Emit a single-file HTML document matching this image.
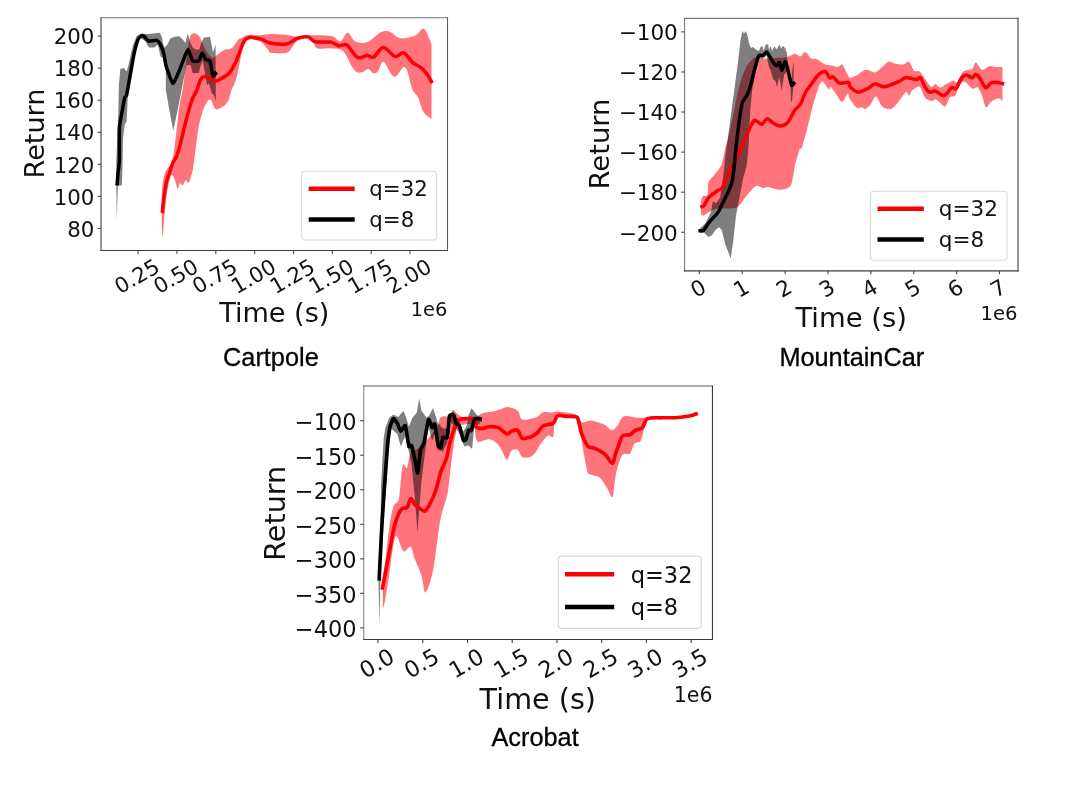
<!DOCTYPE html>
<html lang="en">
<head>
<meta charset="utf-8">
<title>Return vs Time: Cartpole, MountainCar, Acrobat</title>
<style>
html,body{margin:0;padding:0;background:#fff;}
body{width:1080px;height:785px;overflow:hidden;font-family:'Liberation Sans',sans-serif;}
svg{display:block;}
text{white-space:pre;}
</style>
</head>
<body>
<svg width="1080" height="785" viewBox="0 0 1080 785">
<rect width="1080" height="785" fill="#ffffff"/>
<clipPath id="c1"><rect x="101.0" y="17.75" width="346.5" height="232.75"/></clipPath>
<g clip-path="url(#c1)">
<path d="M162.4,235.9 C162.3,232.1 161.6,221.4 161.6,213 C161.6,204.6 161.7,192.5 162.4,185.5 C162.9,179.9 164.4,174.5 165.7,171.2 C166.7,168.7 168.7,167.9 169.9,165.4 C171.2,162.7 172.6,159.2 173.4,155.2 C174.5,149.4 175.5,139.1 176.5,130.8 C177.5,122.5 178.6,112.1 179.6,105.3 C180.5,99.4 181.8,94.9 182.6,90 C183.4,85.1 183.8,81.4 184.5,76.1 C185.3,69.5 186.5,57.4 187.5,50.6 C188.4,44.7 189.4,38.2 190.6,35.3 C191.3,33.7 193.2,33.0 194.7,33.3 C196.2,33.6 198.4,35.3 199.8,37.3 C201.3,39.5 202.3,43.6 203.8,46.5 C205.3,49.4 207.4,52.8 208.9,54.7 C210.1,56.2 211.6,57.7 213,57.7 C214.4,57.7 215.5,55.8 217.1,54.7 C219.1,53.4 222.8,50.6 225.2,49.6 C227.4,48.6 229.5,50.0 231.4,48.5 C233.6,46.8 236.8,41.1 238.5,39.4 C239.4,38.5 240.4,38.8 241.5,38.3 C242.8,37.6 244.4,35.7 246.6,35.3 C249.7,34.8 256.1,35.5 260,35.3 C263.8,35.1 266.2,34.1 270,34.1 C274.6,34.1 283.3,34.5 287.8,35 C291.3,35.3 293.5,36.8 296.8,36.8 C300.1,36.8 303.4,35.4 307.5,35.3 C313.3,35.1 326.0,34.9 331.5,35.9 C335.4,36.6 337.8,41.7 340.5,41.2 C343.2,40.7 345.1,32.7 347.6,32.8 C350.1,32.9 352.2,40.3 355.6,41.8 C359.0,43.3 363.9,43.4 368.1,41.8 C372.3,40.2 377.0,34.0 380.6,32.3 C383.7,30.8 386.5,30.5 389.5,31.4 C392.5,32.3 395.5,36.7 398.5,37.7 C401.5,38.8 404.4,38.2 407.4,37.7 C410.4,37.2 413.8,36.5 416.3,35 C418.8,33.5 420.9,29.3 422.5,28.7 C424.1,28.1 425.2,29.9 426.1,31.4 C427.6,33.9 430.6,41.8 431.5,43.9 L431.5,118.8 C430.1,117.6 425.6,115.2 423.4,111.7 C421.2,108.1 419.9,101.0 418.1,97.4 C416.6,94.4 414.0,93.4 412.7,90.3 C410.9,86.0 408.9,75.4 407.4,71.5 C406.6,69.5 405.7,66.3 403.8,67.1 C401.9,67.9 397.9,75.2 395.8,76.4 C394.1,77.3 392.5,75.7 391.3,74.2 C389.2,71.8 385.5,62.2 383.3,61.7 C381.1,61.2 379.5,69.6 377.9,71.5 C376.7,72.9 375.1,73.7 373.5,73.3 C371.9,72.9 369.9,69.1 368.1,68.9 C366.3,68.7 364.6,71.5 362.8,72.1 C361.0,72.7 359.2,73.2 357.4,72.4 C355.6,71.6 353.7,69.5 352.1,67.1 C349.7,63.5 346.5,54.1 343.1,51 C339.8,48.0 335.8,48.8 331.5,48.4 C327.2,48.0 320.4,49.5 317.3,48.4 C314.4,47.4 314.4,43.6 312.8,41.8 C311.2,40.0 309.7,38.2 307.5,37.7 C305.3,37.2 301.8,37.2 299.4,38.5 C297.0,39.8 295.3,43.3 293.2,45.7 C291.1,48.1 290.3,51.7 286.9,52.8 C283.0,54.0 273.1,53.2 270,52.8 C268.8,52.6 269.2,51.0 268.4,50.1 C266.9,48.3 263.7,43.9 261.3,42.1 C259.0,40.3 256.5,39.7 254.1,39.4 C251.7,39.1 248.8,39.2 247,40.3 C245.2,41.3 244.3,43.5 243.4,45.7 C242.5,47.9 242.1,50.6 241.5,53.6 C240.7,57.5 239.5,64.3 238.5,68.9 C237.5,73.5 236.6,77.7 235.4,81.2 C234.2,84.7 232.7,86.8 231.5,90 C230.3,93.2 229.8,97.5 228.5,100.2 C227.2,102.9 225.4,104.8 223.4,106.3 C221.4,107.8 218.0,109.6 216.3,109.4 C214.6,109.2 214.0,106.8 213.2,105.3 C212.3,103.8 212.0,101.0 211.2,100.2 C210.4,99.4 208.8,99.3 208.1,100.2 C206.7,101.9 204.5,106.3 203,110.4 C201.5,114.7 200.0,119.8 198.9,125.7 C197.7,131.8 196.9,139.7 195.9,147.1 C194.9,154.5 193.6,165.3 192.8,170 C192.5,172.1 191.8,173.3 191.2,175.3 C190.5,177.5 189.6,182.1 188.7,182.9 C187.8,183.8 186.6,180.0 185.6,180.4 C184.6,180.8 183.5,185.0 182.6,185.5 C181.7,186.0 180.8,182.9 180,183.4 C179.2,183.9 178.3,188.8 177.5,188.5 C176.7,188.2 176.4,183.6 175.4,181.4 C174.4,179.2 172.8,173.8 171.4,175.3 C170.1,176.8 168.4,184.7 167.3,190.6 C166.2,196.9 165.4,205.4 164.7,213 C164.0,220.6 163.3,232.1 163,235.9Z" fill="#ff020d" fill-opacity="0.55"/>
<path d="M116.3,185.5 L116.3,160 L118.2,117 L118.9,84.9 L120.3,68.9 L123.9,68 L126.6,71.5 L128.4,65.3 L132.8,45.7 L136.7,35.9 L140.8,33.7 L148.9,34.1 L159.6,32.8 L161.9,36.8 L163.5,45.7 L164.9,47.5 L167.6,43.9 L170.3,38.5 L174.7,36.8 L179.2,36.2 L182.8,39.4 L185.4,43 L187.8,33.2 L189.6,40.4 L192.6,47.5 L195.7,49.6 L199.2,49.6 L201.8,41.4 L203.8,37.8 L209.9,36.8 L211.5,44.5 L213,52.6 L215.6,44.5 L215.8,100.9 L214,95.4 L212,93.4 L208.9,83.2 L206.9,85.2 L204.9,73 L202.8,60.8 L200.8,64.9 L198.7,73 L192.6,73 L190.6,64.9 L186.5,64.9 L184.5,75 L181.6,90 L179.6,100.2 L176.5,115.5 L173.2,130.8 L170.4,115.5 L165.8,90 L165.8,70.7 L163.1,58.2 L160.5,56.4 L157.8,44.8 L154.2,47.5 L148.9,47.5 L145.3,41.2 L140.8,38.2 L136.7,42.1 L131.4,63.5 L127.8,95.6 L126.6,121.5 L124.8,124.2 L123,137.9 L122.6,160 L121.9,185.5 L117.8,185.5 L116.8,221.2Z" fill="#000000" fill-opacity="0.5"/>
<path d="M162.2,213 C162.5,210.1 163.4,201.1 164.2,195.7 C165.0,190.3 165.8,184.7 166.8,180.4 C167.8,176.4 169.3,173.1 170.3,170.2 C171.3,167.4 171.9,165.2 172.9,162.9 C173.9,160.6 175.5,159.0 176.5,156.3 C177.8,153.0 179.2,148.1 180.6,143 C182.0,137.9 183.3,131.1 184.7,125.7 C186.0,120.3 187.3,115.0 188.7,110.4 C190.0,105.8 191.4,101.6 192.8,98.2 C194.1,95.0 195.6,93.2 196.9,90 C198.2,86.8 199.5,81.3 200.8,79.1 C201.7,77.5 203.4,76.8 204.9,76.6 C206.4,76.4 208.2,77.3 209.9,78.1 C211.6,78.9 213.1,81.1 215,81.2 C216.9,81.3 219.0,79.9 221.2,78.6 C223.6,77.2 226.9,75.6 229.3,73 C231.7,70.4 233.5,66.7 235.4,62.8 C237.3,58.9 239.0,53.3 240.5,49.6 C242.0,46.1 243.1,42.5 244.6,40.4 C246.0,38.6 248.1,37.8 249.7,37.3 C251.3,36.8 252.4,37.4 254.1,37.7 C256.2,38.1 259.5,38.5 262.2,39.4 C264.9,40.3 266.9,42.4 270.2,43 C274.3,43.8 282.5,44.6 286.9,43.9 C291.1,43.2 293.4,39.7 296.8,38.5 C300.2,37.3 304.4,36.2 307.5,36.8 C310.6,37.3 312.0,41.0 315.5,41.8 C319.4,42.7 326.8,41.5 330.7,42.1 C334.0,42.7 336.0,45.2 338.7,45.7 C341.4,46.2 344.1,43.2 346.7,44.8 C349.8,46.7 354.0,55.5 357.4,57.3 C360.8,59.1 364.5,55.5 367.2,55.5 C369.7,55.5 371.3,58.4 373.5,57.3 C376.2,56.0 379.7,47.6 383.3,47.5 C386.9,47.4 391.5,55.5 394.9,56.4 C398.3,57.3 400.8,51.8 403.8,52.8 C406.8,53.8 409.7,60.1 412.7,62.6 C415.7,65.1 419.2,66.1 421.6,68 C424.0,69.9 425.2,71.7 427,74.2 C428.8,76.7 431.4,81.6 432.3,83.1" fill="none" stroke="#f80006" stroke-width="3.5" stroke-linejoin="round" stroke-linecap="butt"/>
<path d="M117,185.5 C117.1,184.4 117.9,174.3 118.1,172.2 C118.3,170.1 119.3,163.7 119.4,160 C119.5,156.3 119.2,131.7 119.4,127.7 C119.6,123.7 121.6,114.2 122.1,111.7 C122.5,109.2 124.4,98.8 124.8,97.4 C125.1,96.4 126.4,96.3 126.6,95.3 C127.3,92.0 132.3,62.8 133.2,58.2 C134.1,53.6 137.1,41.9 137.8,40 C138.5,38.1 141.3,35.8 141.9,35.5 C142.5,35.2 144.0,36.3 144.6,36.8 C145.2,37.3 147.9,40.9 148.9,41.2 C149.9,41.5 155.9,39.8 156.9,40.3 C157.9,40.8 160.8,45.4 161.4,46.6 C162.0,47.8 163.6,53.0 164,54.6 C164.4,56.2 165.4,63.5 166.1,65.9 C166.8,68.3 171.7,82.6 172.7,83.2 C173.7,83.8 177.4,75.0 178.3,73 C179.2,71.0 182.6,61.8 183.4,59.8 C184.2,57.8 187.2,49.5 188,49.6 C188.8,49.7 191.7,59.9 192.6,60.8 C193.5,61.7 197.9,61.4 198.7,60.8 C199.5,60.2 201.7,53.2 202.3,53.1 C202.9,53.0 205.3,59.2 205.9,59.8 C206.5,60.4 209.3,59.4 209.9,60.8 C210.5,62.2 212.4,75.2 213,76.1 C213.6,77.0 216.3,72.3 216.6,72" fill="none" stroke="#000" stroke-width="3.5" stroke-linejoin="round" stroke-linecap="butt"/>
</g>
<rect x="301.7" y="171.3" width="135" height="68.7" rx="3.2" fill="#fff" fill-opacity="0.8" stroke="#d4d4d4" stroke-opacity="0.9" stroke-width="1.1"/>
<line x1="308.7" y1="188.7" x2="354.7" y2="188.7" stroke="#f80006" stroke-width="4.4"/>
<text x="369.3" y="195.94" font-family="'DejaVu Sans','Liberation Sans',sans-serif" font-size="21.30" fill="#111">q=32</text>
<line x1="308.7" y1="219.5" x2="354.7" y2="219.5" stroke="#000" stroke-width="4.4"/>
<text x="369.3" y="226.74" font-family="'DejaVu Sans','Liberation Sans',sans-serif" font-size="21.30" fill="#111">q=8</text>
<line x1="101.0" y1="17.21" x2="101.0" y2="251.04" stroke="#3c3c3c" stroke-width="1.08"/>
<line x1="100.46" y1="17.75" x2="448.04" y2="17.75" stroke="#707070" stroke-width="1.08"/>
<line x1="447.5" y1="17.21" x2="447.5" y2="251.04" stroke="#5c5c5c" stroke-width="1.08"/>
<line x1="100.46" y1="250.5" x2="448.04" y2="250.5" stroke="#3c3c3c" stroke-width="1.08"/>
<line x1="97.6" y1="36.1" x2="101.0" y2="36.1" stroke="#4a4a4a" stroke-width="1.1"/>
<text x="94.30" y="44.30" text-anchor="end" font-family="'DejaVu Sans','Liberation Sans',sans-serif" font-size="21.30" fill="#111">200</text>
<line x1="97.6" y1="68.15" x2="101.0" y2="68.15" stroke="#4a4a4a" stroke-width="1.1"/>
<text x="94.30" y="76.35" text-anchor="end" font-family="'DejaVu Sans','Liberation Sans',sans-serif" font-size="21.30" fill="#111">180</text>
<line x1="97.6" y1="100.19999999999999" x2="101.0" y2="100.19999999999999" stroke="#4a4a4a" stroke-width="1.1"/>
<text x="94.30" y="108.40" text-anchor="end" font-family="'DejaVu Sans','Liberation Sans',sans-serif" font-size="21.30" fill="#111">160</text>
<line x1="97.6" y1="132.25" x2="101.0" y2="132.25" stroke="#4a4a4a" stroke-width="1.1"/>
<text x="94.30" y="140.45" text-anchor="end" font-family="'DejaVu Sans','Liberation Sans',sans-serif" font-size="21.30" fill="#111">140</text>
<line x1="97.6" y1="164.29999999999998" x2="101.0" y2="164.29999999999998" stroke="#4a4a4a" stroke-width="1.1"/>
<text x="94.30" y="172.50" text-anchor="end" font-family="'DejaVu Sans','Liberation Sans',sans-serif" font-size="21.30" fill="#111">120</text>
<line x1="97.6" y1="196.35" x2="101.0" y2="196.35" stroke="#4a4a4a" stroke-width="1.1"/>
<text x="94.30" y="204.55" text-anchor="end" font-family="'DejaVu Sans','Liberation Sans',sans-serif" font-size="21.30" fill="#111">100</text>
<line x1="97.6" y1="228.39999999999998" x2="101.0" y2="228.39999999999998" stroke="#4a4a4a" stroke-width="1.1"/>
<text x="94.30" y="236.60" text-anchor="end" font-family="'DejaVu Sans','Liberation Sans',sans-serif" font-size="21.30" fill="#111">80</text>
<line x1="138.1" y1="250.5" x2="138.1" y2="253.9" stroke="#4a4a4a" stroke-width="1.1"/>
<text transform="translate(137.00,276.49) rotate(-30)" x="0" y="7.24" text-anchor="middle" font-family="'DejaVu Sans','Liberation Sans',sans-serif" font-size="21.30" fill="#111">0.25</text>
<line x1="176.95" y1="250.5" x2="176.95" y2="253.9" stroke="#4a4a4a" stroke-width="1.1"/>
<text transform="translate(175.85,276.49) rotate(-30)" x="0" y="7.24" text-anchor="middle" font-family="'DejaVu Sans','Liberation Sans',sans-serif" font-size="21.30" fill="#111">0.50</text>
<line x1="215.8" y1="250.5" x2="215.8" y2="253.9" stroke="#4a4a4a" stroke-width="1.1"/>
<text transform="translate(214.70,276.49) rotate(-30)" x="0" y="7.24" text-anchor="middle" font-family="'DejaVu Sans','Liberation Sans',sans-serif" font-size="21.30" fill="#111">0.75</text>
<line x1="254.65" y1="250.5" x2="254.65" y2="253.9" stroke="#4a4a4a" stroke-width="1.1"/>
<text transform="translate(253.55,276.49) rotate(-30)" x="0" y="7.24" text-anchor="middle" font-family="'DejaVu Sans','Liberation Sans',sans-serif" font-size="21.30" fill="#111">1.00</text>
<line x1="293.5" y1="250.5" x2="293.5" y2="253.9" stroke="#4a4a4a" stroke-width="1.1"/>
<text transform="translate(292.40,276.49) rotate(-30)" x="0" y="7.24" text-anchor="middle" font-family="'DejaVu Sans','Liberation Sans',sans-serif" font-size="21.30" fill="#111">1.25</text>
<line x1="332.35" y1="250.5" x2="332.35" y2="253.9" stroke="#4a4a4a" stroke-width="1.1"/>
<text transform="translate(331.25,276.49) rotate(-30)" x="0" y="7.24" text-anchor="middle" font-family="'DejaVu Sans','Liberation Sans',sans-serif" font-size="21.30" fill="#111">1.50</text>
<line x1="371.20000000000005" y1="250.5" x2="371.20000000000005" y2="253.9" stroke="#4a4a4a" stroke-width="1.1"/>
<text transform="translate(370.10,276.49) rotate(-30)" x="0" y="7.24" text-anchor="middle" font-family="'DejaVu Sans','Liberation Sans',sans-serif" font-size="21.30" fill="#111">1.75</text>
<line x1="410.04999999999995" y1="250.5" x2="410.04999999999995" y2="253.9" stroke="#4a4a4a" stroke-width="1.1"/>
<text transform="translate(408.95,276.49) rotate(-30)" x="0" y="7.24" text-anchor="middle" font-family="'DejaVu Sans','Liberation Sans',sans-serif" font-size="21.30" fill="#111">2.00</text>
<text x="274.3" y="322.3" text-anchor="middle" font-family="'DejaVu Sans','Liberation Sans',sans-serif" font-size="27.10" fill="#111">Time (s)</text>
<text transform="translate(44.2,133.5) rotate(-90)" text-anchor="middle" font-family="'DejaVu Sans','Liberation Sans',sans-serif" font-size="27.10" fill="#111">Return</text>
<text x="447.3" y="316.0" text-anchor="end" font-family="'DejaVu Sans','Liberation Sans',sans-serif" font-size="19.40" fill="#111">1e6</text>
<text x="270.9" y="365.5" text-anchor="middle" font-family="'Liberation Sans',sans-serif" font-size="25.30" fill="#000" stroke="#000" stroke-width="0.3">Cartpole</text>
<clipPath id="c2"><rect x="684.6" y="18.4" width="333.4" height="252.45000000000002"/></clipPath>
<g clip-path="url(#c2)">
<path d="M700.7,206.7 C700.9,205.1 701.0,198.8 702.1,196.9 C703.2,195.0 706.6,197.1 707.5,195.1 C708.5,192.7 707.2,186.0 708.4,182.6 C709.6,179.2 712.4,177.7 714.6,174.6 C716.8,171.5 719.9,168.4 721.7,163.9 C723.5,159.4 724.1,152.6 725.3,147.8 C726.5,143.0 727.7,139.9 728.9,134.9 C730.4,128.6 732.4,118.4 734.2,109.9 C736.0,101.4 737.8,91.3 739.9,84 C742.0,76.9 744.4,70.2 746.9,65.8 C749.1,62.0 752.5,58.6 754.9,57.5 C757.1,56.5 758.6,59.0 761,59.1 C763.5,59.2 766.5,58.4 769.9,58.2 C774.1,57.9 781.8,58.0 786,57.3 C789.6,56.7 792.5,53.9 794.9,53.7 C797.2,53.6 798.5,56.7 800.2,56.4 C801.9,56.1 803.4,51.6 805.2,51.9 C807.0,52.2 809.0,57.0 810.9,58.2 C812.6,59.3 814.4,58.3 816.3,59.1 C818.7,60.1 822.8,63.4 825.2,64.4 C827.1,65.2 828.6,64.9 830.6,65.3 C832.7,65.8 835.8,67.2 837.7,67.1 C839.6,66.9 840.9,63.8 842.2,64.4 C843.5,65.0 844.4,68.5 845.7,70.7 C847.0,72.9 848.1,77.1 850,77.8 C851.9,78.5 854.5,76.4 857.1,75.1 C859.8,73.8 863.1,70.2 866.1,69.8 C869.1,69.3 872.3,72.9 875,72.4 C877.7,72.0 879.9,68.9 882.1,67.1 C884.3,65.3 886.3,62.3 888.4,61.7 C890.5,61.1 892.2,63.1 894.6,63.5 C897.1,64.0 901.1,64.7 903.5,64.4 C905.8,64.1 907.1,60.7 908.9,61.7 C910.7,62.8 912.4,69.1 914.2,70.7 C915.7,72.1 917.9,70.3 919.6,71.5 C921.4,72.8 923.0,76.2 924.9,78.7 C926.8,81.2 929.4,85.8 931.2,86.7 C933.0,87.6 934.1,83.8 935.6,84 C937.1,84.2 938.3,87.6 940.1,87.6 C941.9,87.6 944.1,85.2 946.3,84 C948.5,82.8 951.7,80.8 953.5,80.5 C955.0,80.3 955.9,83.3 957,82.3 C958.6,80.8 960.8,73.7 963.3,71.5 C965.8,69.3 970.1,70.4 972.2,68.9 C974.3,67.4 974.2,62.5 975.8,62.6 C977.4,62.8 979.8,69.2 982,69.8 C984.2,70.4 986.8,66.7 989.2,66.2 C991.6,65.8 994.1,66.9 996.3,67.1 C998.5,67.2 1001.5,67.1 1002.5,67.1 L1002.5,101 C1001.8,100.5 1000.0,98.1 998.1,98.3 C996.2,98.5 992.9,100.4 990.9,101.9 C988.9,103.4 987.4,108.2 985.9,107.2 C984.4,106.2 983.4,98.9 982,95.6 C980.6,92.4 979.2,88.8 977.6,87.6 C976.0,86.4 974.1,89.4 972.2,88.5 C970.0,87.5 966.4,81.7 964.2,81.4 C962.0,81.1 960.3,84.3 958.8,86.7 C957.3,89.1 956.8,93.8 955.3,95.6 C953.9,97.3 951.4,95.8 949.9,97.4 C948.2,99.2 946.9,105.2 945.4,106.3 C943.9,107.3 942.6,104.8 941,103.7 C939.4,102.5 937.1,99.7 935.6,99.2 C934.2,98.8 933.6,101.2 932.1,101 C930.3,100.7 926.9,99.7 924.9,97.4 C922.8,95.0 921.7,87.9 919.6,86.7 C917.5,85.5 914.2,88.8 912.4,90.3 C910.6,91.8 909.9,95.3 908.9,95.6 C907.9,95.9 907.7,91.3 906.2,92.1 C904.6,93.0 901.3,98.3 899.1,101 C896.9,103.7 894.6,106.8 892.8,108.1 C891.4,109.1 890.1,109.3 888.4,109 C886.6,108.7 883.9,108.1 882.1,106.3 C880.0,104.2 877.8,96.8 875.9,96.5 C874.0,96.2 872.3,102.5 870.5,104.6 C868.8,106.6 866.7,108.6 865.2,109 C863.7,109.4 863.0,107.4 861.6,107.2 C860.2,107.0 858.5,109.1 857.1,108.1 C855.2,106.8 851.6,101.6 850,99.2 C848.7,97.3 848.8,93.3 847.5,93.8 C846.2,94.2 844.1,101.9 842.2,101.9 C840.3,101.9 837.8,96.3 835.9,93.8 C834.0,91.3 831.8,87.4 830.6,86.7 C829.6,86.1 829.8,90.1 828.8,89.4 C827.4,88.5 824.3,81.6 822.5,81.4 C820.7,81.2 819.3,85.5 818.1,88.5 C816.5,92.7 814.5,99.8 812.7,106.3 C810.9,112.8 809.3,120.4 807.4,127.7 C805.5,135.0 802.3,146.7 801.1,150 C800.8,150.9 800.5,147.0 800.2,147.8 C799.2,150.4 796.1,160.9 794.9,165.7 C793.9,169.7 794.0,172.8 793.1,176.4 C792.2,180.0 791.9,184.9 789.5,187.1 C787.1,189.3 782.4,189.8 778.8,189.8 C775.2,189.8 770.8,187.4 768.1,187.1 C766.1,186.9 764.8,188.1 762.8,188 C760.7,187.8 758.1,184.8 755.6,186.2 C752.6,187.8 747.9,194.4 744.9,197.8 C742.1,201.1 740.8,204.9 737.8,206.7 C734.8,208.5 730.7,208.2 727.1,208.5 C723.5,208.8 719.4,207.9 716.4,208.5 C713.4,209.1 711.6,210.9 709.2,212.1 C706.8,213.3 703.5,216.4 702.1,215.6 C700.7,214.8 700.9,208.8 700.7,207.4Z" fill="#ff020d" fill-opacity="0.55"/>
<path d="M698.5,229.9 L705.7,222.8 L711,212.1 L712.8,201.4 L716.4,203.1 L720,197.8 L723.5,174.6 L725.3,156.8 L730.7,117 L737.8,63.5 L740.5,40.3 L742.3,30.9 L744,33.7 L745.7,30.9 L747.4,34.9 L749.2,44.1 L750.9,48.1 L752.6,46.9 L754.9,48.6 L757.2,50.4 L758.9,50.9 L760.6,46.9 L762.3,45.8 L763.5,50.4 L765.8,44.6 L768.1,44.6 L769.2,49.8 L770.7,45.8 L772.1,50.9 L774.4,46.4 L776.7,49.2 L779.5,44.6 L781.2,48.6 L783,45.8 L785.3,48.6 L787,53.2 L787.4,58.4 L788.6,67 L790.4,79.6 L791.6,77.3 L792.9,65.8 L793.8,61.2 L793.6,84.2 L792.1,100.2 L791,102.5 L790.4,84.7 L788.8,74.4 L787.4,71 L785.8,72.7 L784.1,75 L783,81.9 L781.5,91 L780.7,84.2 L779,77.3 L777.2,87.6 L775.5,80.7 L773.2,79.6 L770.9,71.6 L768.6,65.8 L766.6,55.5 L762.9,59 L758.9,59 L755.6,72.4 L752.1,90.3 L750.3,109.9 L748.5,147.8 L746.7,165.7 L743.1,178.2 L738.7,201.4 L736,215.6 L733.3,240.6 L730.7,258.5 L725.3,244.2 L721.7,229.9 L719.1,227.2 L715.5,229.9 L711.9,235.3 L708.4,237 L703.9,232.6 L698.5,231.7Z" fill="#000000" fill-opacity="0.5"/>
<path d="M700.3,207.1 C700.9,206.9 702.9,206.9 703.9,205.8 C705.2,204.2 706.3,200.2 708.4,197.8 C710.5,195.4 714.0,193.3 716.4,191.5 C718.7,189.8 721.0,189.5 722.6,187.1 C724.5,184.3 726.4,178.2 728,174.6 C729.6,171.2 730.9,168.7 732.4,165.7 C733.9,162.7 735.2,160.2 736.9,156.8 C738.7,153.2 741.5,148.0 743.1,144.3 C744.7,140.8 745.1,138.4 746.7,134.9 C748.5,130.9 752.0,122.8 753.8,120.6 C754.7,119.5 756.1,120.9 757.4,121.5 C758.8,122.1 760.3,124.7 761.9,124.2 C763.5,123.8 765.3,119.0 767.2,118.8 C769.1,118.6 771.3,122.1 773.5,123.3 C775.7,124.5 778.2,126.2 780.6,126 C783.0,125.8 785.7,124.7 787.7,122.4 C790.1,119.7 792.8,112.9 794.9,109.9 C796.5,107.6 798.7,107.0 800.2,104.6 C802.0,101.6 803.8,95.4 805.6,92.1 C807.2,89.1 808.9,87.6 810.9,84.9 C813.0,82.1 815.7,77.3 818.1,75.1 C820.3,73.0 823.3,71.0 825.2,71.5 C827.1,72.0 828.4,76.9 829.7,77.8 C830.8,78.6 832.0,76.2 833.2,76.9 C834.8,77.8 837.0,82.2 839.5,83.1 C842.0,84.0 846.6,81.7 848.4,82.3 C850.1,82.9 848.8,85.4 850,86.7 C851.6,88.3 855.0,91.8 858,92.1 C861.0,92.4 865.0,89.8 867.8,88.5 C870.6,87.2 872.3,84.3 875,84 C877.7,83.7 880.9,86.7 883.9,86.7 C886.9,86.7 890.3,84.9 892.8,84 C895.2,83.1 897.0,82.4 899.1,81.4 C901.2,80.4 903.1,78.2 905.3,77.8 C907.5,77.3 910.5,78.4 912.4,78.7 C914.1,79.0 915.5,79.8 916.9,79.6 C918.2,79.4 919.4,76.8 920.5,77.8 C921.8,79.0 923.4,84.3 924.9,86.7 C926.3,89.0 927.6,91.3 929.4,92.1 C931.2,92.8 933.4,90.6 935.6,91.2 C937.8,91.8 940.9,95.3 942.8,95.6 C944.7,95.9 945.8,94.3 947.2,93 C948.7,91.7 950.2,88.3 951.7,87.6 C953.2,86.8 954.9,89.7 956.2,88.5 C957.7,87.2 959.0,81.8 960.6,79.6 C962.2,77.4 964.1,75.4 966,75.1 C967.9,74.8 970.6,77.9 972.2,77.8 C973.8,77.7 974.5,74.0 975.8,74.2 C977.1,74.4 978.8,76.8 980.2,78.7 C981.8,80.9 983.8,86.9 985.6,87.6 C987.4,88.3 989.1,84.0 990.9,83.1 C992.7,82.2 994.2,82.2 996.3,82.3 C998.5,82.5 1003.0,83.7 1004.3,84" fill="none" stroke="#f80006" stroke-width="3.5" stroke-linejoin="round" stroke-linecap="butt"/>
<path d="M698.5,230.8 C698.9,230.8 702.2,231.3 703,230.8 C703.8,230.3 706.8,225.6 707.5,224.6 C708.2,223.6 711.0,220.2 711.9,219.2 C712.8,218.2 717.2,213.6 718.2,212.1 C719.2,210.6 722.6,203.2 723.5,201.4 C724.4,199.6 728.2,192.5 728.9,190.7 C729.6,188.9 732.0,182.1 732.4,180 C732.8,177.9 733.9,168.4 734.2,165.7 C734.5,163.0 735.6,151.3 736,147.8 C736.4,144.3 738.2,128.0 738.7,124.2 C739.2,120.5 741.6,105.2 742.3,102.8 C743.0,100.4 746.2,96.4 746.7,95.6 C747.2,94.8 747.7,94.2 748,93.3 C748.4,92.2 750.9,84.0 751.5,81.9 C752.1,79.8 754.3,70.3 754.9,68.1 C755.5,65.9 758.2,56.5 758.9,55.5 C759.6,54.5 762.3,55.8 762.9,55.5 C763.5,55.2 766.0,52.0 766.6,52.1 C767.2,52.2 769.2,55.8 769.8,56.7 C770.3,57.6 772.6,61.6 773.2,62.4 C773.8,63.2 776.2,65.8 776.7,65.8 C777.2,65.8 779.1,62.0 779.5,62.4 C779.9,62.8 781.3,70.5 781.8,70.4 C782.3,70.3 784.8,61.2 785.3,61.2 C785.8,61.2 787.6,68.4 788.1,70.4 C788.6,72.4 791.0,84.3 791.6,85.3 C792.2,86.3 794.7,82.2 795,81.9" fill="none" stroke="#000" stroke-width="3.5" stroke-linejoin="round" stroke-linecap="butt"/>
</g>
<rect x="870.5" y="191.3" width="136.5" height="69" rx="3.2384" fill="#fff" fill-opacity="0.8" stroke="#d4d4d4" stroke-opacity="0.9" stroke-width="1.1132"/>
<line x1="877.5" y1="208.7" x2="923.8" y2="208.7" stroke="#f80006" stroke-width="4.41584"/>
<text x="938.8" y="216.03" font-family="'DejaVu Sans','Liberation Sans',sans-serif" font-size="21.56" fill="#111">q=32</text>
<line x1="877.5" y1="239.5" x2="923.8" y2="239.5" stroke="#000" stroke-width="4.41584"/>
<text x="938.8" y="246.83" font-family="'DejaVu Sans','Liberation Sans',sans-serif" font-size="21.56" fill="#111">q=8</text>
<line x1="684.6" y1="17.86" x2="684.6" y2="271.39" stroke="#757575" stroke-width="1.08"/>
<line x1="684.06" y1="18.4" x2="1018.54" y2="18.4" stroke="#757575" stroke-width="1.08"/>
<line x1="1018.0" y1="17.86" x2="1018.0" y2="271.39" stroke="#3c3c3c" stroke-width="1.08"/>
<line x1="684.06" y1="270.85" x2="1018.54" y2="270.85" stroke="#3c3c3c" stroke-width="1.08"/>
<line x1="681.159" y1="31.9" x2="684.6" y2="31.9" stroke="#4a4a4a" stroke-width="1.1132"/>
<text x="677.82" y="40.20" text-anchor="end" font-family="'DejaVu Sans','Liberation Sans',sans-serif" font-size="21.56" fill="#111">−100</text>
<line x1="681.159" y1="71.97" x2="684.6" y2="71.97" stroke="#4a4a4a" stroke-width="1.1132"/>
<text x="677.82" y="80.27" text-anchor="end" font-family="'DejaVu Sans','Liberation Sans',sans-serif" font-size="21.56" fill="#111">−120</text>
<line x1="681.159" y1="112.03999999999999" x2="684.6" y2="112.03999999999999" stroke="#4a4a4a" stroke-width="1.1132"/>
<text x="677.82" y="120.34" text-anchor="end" font-family="'DejaVu Sans','Liberation Sans',sans-serif" font-size="21.56" fill="#111">−140</text>
<line x1="681.159" y1="152.11" x2="684.6" y2="152.11" stroke="#4a4a4a" stroke-width="1.1132"/>
<text x="677.82" y="160.41" text-anchor="end" font-family="'DejaVu Sans','Liberation Sans',sans-serif" font-size="21.56" fill="#111">−160</text>
<line x1="681.159" y1="192.18" x2="684.6" y2="192.18" stroke="#4a4a4a" stroke-width="1.1132"/>
<text x="677.82" y="200.48" text-anchor="end" font-family="'DejaVu Sans','Liberation Sans',sans-serif" font-size="21.56" fill="#111">−180</text>
<line x1="681.159" y1="232.25" x2="684.6" y2="232.25" stroke="#4a4a4a" stroke-width="1.1132"/>
<text x="677.82" y="240.55" text-anchor="end" font-family="'DejaVu Sans','Liberation Sans',sans-serif" font-size="21.56" fill="#111">−200</text>
<line x1="699.4" y1="270.85" x2="699.4" y2="274.291" stroke="#4a4a4a" stroke-width="1.1132"/>
<text transform="translate(698.30,288.58) rotate(-30)" x="0" y="7.33" text-anchor="middle" font-family="'DejaVu Sans','Liberation Sans',sans-serif" font-size="21.56" fill="#111">0</text>
<line x1="742.27" y1="270.85" x2="742.27" y2="274.291" stroke="#4a4a4a" stroke-width="1.1132"/>
<text transform="translate(741.17,288.58) rotate(-30)" x="0" y="7.33" text-anchor="middle" font-family="'DejaVu Sans','Liberation Sans',sans-serif" font-size="21.56" fill="#111">1</text>
<line x1="785.14" y1="270.85" x2="785.14" y2="274.291" stroke="#4a4a4a" stroke-width="1.1132"/>
<text transform="translate(784.04,288.58) rotate(-30)" x="0" y="7.33" text-anchor="middle" font-family="'DejaVu Sans','Liberation Sans',sans-serif" font-size="21.56" fill="#111">2</text>
<line x1="828.01" y1="270.85" x2="828.01" y2="274.291" stroke="#4a4a4a" stroke-width="1.1132"/>
<text transform="translate(826.91,288.58) rotate(-30)" x="0" y="7.33" text-anchor="middle" font-family="'DejaVu Sans','Liberation Sans',sans-serif" font-size="21.56" fill="#111">3</text>
<line x1="870.88" y1="270.85" x2="870.88" y2="274.291" stroke="#4a4a4a" stroke-width="1.1132"/>
<text transform="translate(869.78,288.58) rotate(-30)" x="0" y="7.33" text-anchor="middle" font-family="'DejaVu Sans','Liberation Sans',sans-serif" font-size="21.56" fill="#111">4</text>
<line x1="913.75" y1="270.85" x2="913.75" y2="274.291" stroke="#4a4a4a" stroke-width="1.1132"/>
<text transform="translate(912.65,288.58) rotate(-30)" x="0" y="7.33" text-anchor="middle" font-family="'DejaVu Sans','Liberation Sans',sans-serif" font-size="21.56" fill="#111">5</text>
<line x1="956.6199999999999" y1="270.85" x2="956.6199999999999" y2="274.291" stroke="#4a4a4a" stroke-width="1.1132"/>
<text transform="translate(955.52,288.58) rotate(-30)" x="0" y="7.33" text-anchor="middle" font-family="'DejaVu Sans','Liberation Sans',sans-serif" font-size="21.56" fill="#111">6</text>
<line x1="999.49" y1="270.85" x2="999.49" y2="274.291" stroke="#4a4a4a" stroke-width="1.1132"/>
<text transform="translate(998.39,288.58) rotate(-30)" x="0" y="7.33" text-anchor="middle" font-family="'DejaVu Sans','Liberation Sans',sans-serif" font-size="21.56" fill="#111">7</text>
<text x="851.2" y="327.0" text-anchor="middle" font-family="'DejaVu Sans','Liberation Sans',sans-serif" font-size="27.43" fill="#111">Time (s)</text>
<text transform="translate(609.1,144.0) rotate(-90)" text-anchor="middle" font-family="'DejaVu Sans','Liberation Sans',sans-serif" font-size="27.43" fill="#111">Return</text>
<text x="1017.5" y="320.0" text-anchor="end" font-family="'DejaVu Sans','Liberation Sans',sans-serif" font-size="19.63" fill="#111">1e6</text>
<text x="851.8" y="366.0" text-anchor="middle" font-family="'Liberation Sans',sans-serif" font-size="25.30" fill="#000" stroke="#000" stroke-width="0.3">MountainCar</text>
<clipPath id="c3"><rect x="363.75" y="386.0" width="348.70000000000005" height="253.45000000000005"/></clipPath>
<g clip-path="url(#c3)">
<path d="M381.4,589.6 C382.1,584.2 384.2,568.7 385.7,557.4 C387.1,546.1 388.8,530.4 390.1,521.8 C391.1,515.6 392.5,509.0 393.7,505.7 C394.4,503.9 396.4,503.4 397.3,502.1 C398.2,500.8 398.9,499.8 399.1,498.1 C399.8,493.0 401.0,477.0 401.7,471.3 C402.1,468.5 402.6,464.8 403.5,464.2 C404.4,463.6 406.0,469.4 407.1,467.8 C408.3,466.0 408.3,457.1 410.7,453.5 C413.1,449.9 418.1,449.4 421.4,446.4 C424.7,443.4 427.6,439.0 430.3,435.7 C433.0,432.4 435.6,429.8 437.4,426.7 C439.2,423.6 438.9,418.7 441,416.9 C443.1,415.1 448.0,417.2 449.9,416 C451.8,414.8 451.4,410.2 452.6,409.8 C453.8,409.4 455.2,412.2 457,413.4 C458.9,414.7 461.2,417.1 464.2,417.8 C467.2,418.5 471.9,418.5 474.9,417.8 C477.9,417.1 479.0,414.4 482,413.4 C485.0,412.4 489.4,412.4 492.7,411.6 C496.0,410.9 499.1,409.6 501.6,408.9 C504.0,408.2 505.4,406.8 507.9,407.1 C510.6,407.4 515.5,408.8 517.7,410.7 C519.9,412.6 519.5,417.2 521.3,418.7 C523.1,420.2 526.9,419.6 528.4,419.6 C529.1,419.6 529.3,418.9 530,418.7 C531.5,418.2 534.9,418.0 537.1,416.9 C539.3,415.8 541.0,412.8 543.4,412.1 C545.8,411.4 548.9,412.6 551.4,412.5 C553.9,412.4 555.8,411.3 558.5,411.6 C562.7,412.0 572.5,413.3 576.4,415.1 C579.5,416.5 579.3,421.4 581.7,422.3 C584.1,423.2 588.0,420.5 590.7,420.5 C593.4,420.5 595.4,421.6 597.8,422.3 C600.2,423.1 602.5,423.7 604.9,425 C607.3,426.3 610.0,430.2 612.1,430.3 C614.2,430.4 615.7,427.8 617.4,425.8 C619.3,423.5 620.4,417.7 623.7,416.4 C627.0,415.1 633.0,417.6 637,417.8 C641.0,418.0 643.6,417.7 647.7,417.5 C651.9,417.3 656.9,416.8 662,416.6 C667.1,416.4 673.3,416.6 678.1,416.2 C682.9,415.8 687.3,415.1 690.6,414.4 C693.4,413.8 696.5,412.5 697.7,412.1 L697.7,414.6 C696.5,415.0 693.4,416.3 690.6,416.9 C687.3,417.6 682.9,418.3 678.1,418.7 C673.3,419.1 667.1,418.9 662,419.1 C656.9,419.3 650.5,419.0 647.7,420 C645.7,420.7 645.8,423.0 645.1,425 C643.9,428.5 642.4,437.9 640.6,441 C639.3,443.2 636.1,441.7 634.4,443.7 C632.6,445.8 631.8,451.7 629.9,453.5 C628.0,455.3 624.6,452.4 622.8,454.4 C620.7,456.8 618.8,463.2 617.4,467.8 C616.0,472.4 615.5,477.1 614.7,482 C613.9,486.9 613.7,496.3 612.4,497.2 C611.1,498.1 608.8,490.7 606.7,487.4 C604.6,484.1 602.0,479.7 599.6,477.6 C597.4,475.7 594.3,475.6 592.4,474.9 C590.7,474.2 588.6,474.8 588,473.1 C586.5,469.2 584.8,458.5 583.5,451.7 C582.2,444.9 581.2,437.6 580,432.1 C578.9,426.9 580.3,421.1 576.4,418.7 C572.5,416.3 560.7,414.8 556.8,417.8 C552.9,420.8 554.7,433.5 553.2,436.5 C552.3,438.4 549.6,434.7 547.8,435.7 C545.7,436.9 542.8,440.9 540.7,443.7 C538.6,446.5 537.2,450.4 535.4,452.6 C533.7,454.7 532.2,456.4 530,457.1 C527.8,457.9 524.2,458.3 522.2,457.1 C520.2,455.9 519.5,450.9 517.7,449.9 C515.9,448.8 513.3,449.2 511.5,450.8 C509.7,452.4 508.6,459.9 507,459.7 C505.4,459.5 503.4,452.7 501.6,449.9 C499.8,447.1 498.4,444.6 496.3,442.8 C494.2,441.0 492.2,439.4 489.2,439.2 C486.2,439.0 480.7,442.2 478.5,441.9 C476.5,441.6 476.4,439.3 475.8,437.4 C474.9,434.6 475.6,427.1 473.1,425 C470.6,422.9 463.3,424.4 460.6,425 C458.7,425.4 457.6,426.7 457,428.5 C455.8,432.1 454.5,439.5 453.5,446.4 C452.3,454.1 450.9,466.8 449.9,474.9 C448.9,482.5 448.7,488.1 447.2,495 C445.7,501.9 442.6,509.0 441,516.4 C439.4,523.8 438.6,531.3 437.4,539.6 C436.2,547.9 435.1,559.0 433.8,566.4 C432.6,573.3 430.9,579.9 429.4,584.2 C428.3,587.5 426.2,593.7 424.9,592.2 C423.6,590.7 423.2,581.1 421.4,575.3 C419.6,569.5 416.0,562.2 414.2,557.4 C412.7,553.4 412.5,547.7 410.7,546.7 C408.9,545.7 405.9,553.0 403.5,551.2 C401.1,549.4 398.2,536.5 396.4,536 C394.6,535.5 393.7,543.6 392.8,548.5 C391.5,555.9 389.9,570.8 388.4,580.6 C386.8,590.4 384.4,605.9 383.5,607.4 C382.6,608.9 382.9,592.6 382.8,589.6Z" fill="#ff020d" fill-opacity="0.55"/>
<path d="M378.5,580.6 L379.4,548.5 L380.7,512.8 L381,485.6 L382.5,458.8 L383.7,438.2 L385.3,427.8 L389.4,417.5 L393.4,414.4 L398.2,416.9 L403.5,410.7 L406.2,417.8 L408.9,426.7 L412.4,417.8 L416.9,412.5 L419.2,398.2 L421.4,410.7 L426.7,417.8 L429.4,415.1 L433,408 L435.6,416 L437.4,422.3 L442.8,428.5 L447.2,428.5 L449.5,413.4 L453.5,411.6 L457,417.8 L459.2,419.6 L462.9,432.1 L466.9,425.3 L468.6,415 L471.5,408.2 L474.3,411.4 L476.7,415 L479.5,416.6 L481.7,418.9 L482,420.7 L474,428.5 L472.2,449 L468.6,445.5 L464.2,446.4 L460.6,435.7 L455.3,426.7 L449.9,421.4 L447.2,442.8 L442.8,451.7 L438.3,449.9 L434.7,433.9 L432.1,441 L428.5,426.7 L424.9,453.5 L421.4,482 L417.4,532.5 L415.1,499.9 L411.5,464.2 L408.9,451.7 L405.3,435.7 L400.8,446.4 L397.3,433.9 L391,428.5 L388.4,449.9 L386.6,482 L383.9,512.8 L382.1,548.5 L380.3,580.6 L379.4,625.2Z" fill="#000000" fill-opacity="0.5"/>
<path d="M382.1,589.6 C382.9,585.7 385.1,574.1 386.6,566.4 C388.1,558.7 389.7,550.1 391,543.2 C392.3,536.4 393.2,530.4 394.6,525.3 C395.9,520.4 397.8,515.6 399.1,512.8 C400.0,510.9 401.3,509.3 402.6,508.4 C403.9,507.5 406.0,508.8 407.1,507.5 C408.5,505.9 409.4,499.1 410.7,498.6 C412.0,498.2 413.6,503.2 415.1,504.8 C416.6,506.4 418.0,507.3 419.6,508.4 C421.2,509.4 423.3,511.7 424.9,511.1 C426.5,510.5 428.0,507.4 429.4,504.8 C431.2,501.4 433.7,496.4 435.6,491 C437.5,485.4 439.2,476.7 441,471.3 C442.6,466.4 444.8,463.6 446.3,458.8 C447.8,454.1 448.5,447.9 449.9,442.8 C451.2,437.8 453.2,432.1 454.4,428.5 C455.3,425.8 456.0,422.9 457,421.4 C457.9,420.1 459.0,419.4 460.6,419.2 C463.6,418.8 472.4,417.4 474.9,418.7 C477.4,419.9 474.6,425.1 475.8,426.7 C477.0,428.3 479.8,428.5 482,428.5 C484.2,428.5 486.5,426.8 489.2,426.7 C491.9,426.6 495.1,426.4 498.1,427.6 C501.1,428.8 504.8,433.3 507,433.9 C508.9,434.4 509.7,431.8 511.5,431.2 C513.3,430.6 515.9,429.1 517.7,430.3 C519.5,431.5 520.4,437.1 522.2,438.3 C524.0,439.5 527.1,437.5 528.4,437.4 C529.0,437.3 529.5,437.7 530,437.4 C531.5,436.7 534.9,434.9 537.1,433 C539.3,431.1 540.7,427.4 543.4,425.8 C546.1,424.2 550.8,424.9 553.2,423.2 C555.6,421.5 555.6,416.8 557.7,415.7 C559.8,414.6 562.7,416.2 565.7,416.4 C568.8,416.6 574.2,415.8 576.4,416.9 C578.6,418.0 578.3,420.7 579.1,423.2 C580.0,426.0 580.2,430.0 581.7,433.9 C583.2,437.8 585.9,444.0 588,446.4 C589.6,448.2 592.0,447.2 594.2,448.1 C596.4,449.0 599.3,450.4 601.4,451.7 C603.5,453.0 604.9,454.3 606.7,456.2 C608.5,458.1 610.9,463.8 612.4,463.3 C613.9,462.9 614.5,456.8 615.6,453.5 C616.7,450.2 618.0,446.7 619.2,443.7 C620.4,440.7 621.0,437.2 622.8,435.7 C624.6,434.2 627.8,435.7 629.9,434.8 C632.0,433.9 633.2,431.5 635.3,430.3 C637.4,429.1 640.3,429.5 642.4,427.6 C644.5,425.7 644.4,420.3 647.7,418.7 C651.0,417.1 656.9,418.0 662,417.8 C667.1,417.6 673.3,417.9 678.1,417.5 C682.9,417.1 687.3,416.4 690.6,415.7 C693.4,415.1 696.5,413.8 697.7,413.4" fill="none" stroke="#f80006" stroke-width="3.65" stroke-linejoin="round" stroke-linecap="butt"/>
<path d="M379.1,580.6 C379.2,577.9 380.4,553.4 380.7,548.5 C380.9,543.6 381.8,526.3 382.1,521.8 C382.4,517.3 383.7,498.3 383.9,495 C384.1,491.7 384.5,486.1 384.8,482 C385.1,477.9 387.1,451.0 387.5,446.4 C387.9,441.8 389.6,429.0 390.1,426.7 C390.6,424.4 392.8,419.0 393.4,418.7 C394.0,418.4 396.7,422.2 397.3,423.2 C397.9,424.2 400.1,431.0 400.8,431.2 C401.5,431.4 404.6,424.5 405.3,425.8 C406.0,427.1 408.4,444.8 408.9,446.4 C409.2,447.4 411.1,444.5 411.5,445.5 C412.0,446.7 414.6,458.3 415.1,460.6 C415.6,462.9 417.4,474.0 417.8,473.1 C418.2,472.2 420.0,452.4 420.5,449.9 C421.0,447.4 423.3,445.3 424,442.8 C424.7,440.3 427.8,420.9 428.5,419.6 C429.2,418.3 431.6,427.2 432.1,427.6 C432.6,428.0 434.2,422.5 434.7,424.1 C435.2,425.7 437.8,444.5 438.3,446.4 C438.6,447.4 440.6,448.1 441,447.3 C441.4,446.6 442.3,438.2 442.8,437.4 C443.3,436.6 446.7,439.0 447.2,437.4 C447.8,435.6 449.0,417.9 449.5,416 C449.9,414.5 452.9,414.5 453.5,415.1 C454.1,415.7 455.7,422.2 456.2,423.2 C456.7,424.2 459.1,425.3 459.7,426.7 C460.3,428.1 462.8,439.1 463.3,440.1 C463.8,441.1 465.6,440.0 466,439.2 C466.4,438.4 468.2,431.0 468.6,430.3 C469.0,429.6 470.8,431.2 471.3,430.3 C471.8,429.3 474.0,419.6 474.9,418.7 C475.8,417.8 481.4,419.2 482,419.2" fill="none" stroke="#000" stroke-width="3.65" stroke-linejoin="round" stroke-linecap="butt"/>
</g>
<rect x="558.3" y="556.2" width="143" height="72.1" rx="3.3824" fill="#fff" fill-opacity="0.8" stroke="#d4d4d4" stroke-opacity="0.9" stroke-width="1.1627"/>
<line x1="565.0" y1="574.2" x2="614.2" y2="574.2" stroke="#f80006" stroke-width="4.47524"/>
<text x="630.7" y="582.55" font-family="'DejaVu Sans','Liberation Sans',sans-serif" font-size="22.51" fill="#111">q=32</text>
<line x1="565.0" y1="607.0" x2="614.2" y2="607.0" stroke="#000" stroke-width="4.47524"/>
<text x="630.7" y="615.35" font-family="'DejaVu Sans','Liberation Sans',sans-serif" font-size="22.51" fill="#111">q=8</text>
<line x1="363.75" y1="385.46" x2="363.75" y2="639.99" stroke="#858585" stroke-width="1.08"/>
<line x1="363.21" y1="386.0" x2="712.99" y2="386.0" stroke="#5a5a5a" stroke-width="1.08"/>
<line x1="712.45" y1="385.46" x2="712.45" y2="639.99" stroke="#3a3a3a" stroke-width="1.08"/>
<line x1="363.21" y1="639.45" x2="712.99" y2="639.45" stroke="#3a3a3a" stroke-width="1.08"/>
<line x1="360.156" y1="420.7" x2="363.75" y2="420.7" stroke="#4a4a4a" stroke-width="1.1627"/>
<text x="356.67" y="430.07" text-anchor="end" font-family="'DejaVu Sans','Liberation Sans',sans-serif" font-size="22.51" fill="#111">−100</text>
<line x1="360.156" y1="455.23" x2="363.75" y2="455.23" stroke="#4a4a4a" stroke-width="1.1627"/>
<text x="356.67" y="464.60" text-anchor="end" font-family="'DejaVu Sans','Liberation Sans',sans-serif" font-size="22.51" fill="#111">−150</text>
<line x1="360.156" y1="489.76" x2="363.75" y2="489.76" stroke="#4a4a4a" stroke-width="1.1627"/>
<text x="356.67" y="499.13" text-anchor="end" font-family="'DejaVu Sans','Liberation Sans',sans-serif" font-size="22.51" fill="#111">−200</text>
<line x1="360.156" y1="524.29" x2="363.75" y2="524.29" stroke="#4a4a4a" stroke-width="1.1627"/>
<text x="356.67" y="533.66" text-anchor="end" font-family="'DejaVu Sans','Liberation Sans',sans-serif" font-size="22.51" fill="#111">−250</text>
<line x1="360.156" y1="558.8199999999999" x2="363.75" y2="558.8199999999999" stroke="#4a4a4a" stroke-width="1.1627"/>
<text x="356.67" y="568.19" text-anchor="end" font-family="'DejaVu Sans','Liberation Sans',sans-serif" font-size="22.51" fill="#111">−300</text>
<line x1="360.156" y1="593.35" x2="363.75" y2="593.35" stroke="#4a4a4a" stroke-width="1.1627"/>
<text x="356.67" y="602.72" text-anchor="end" font-family="'DejaVu Sans','Liberation Sans',sans-serif" font-size="22.51" fill="#111">−350</text>
<line x1="360.156" y1="627.88" x2="363.75" y2="627.88" stroke="#4a4a4a" stroke-width="1.1627"/>
<text x="356.67" y="637.25" text-anchor="end" font-family="'DejaVu Sans','Liberation Sans',sans-serif" font-size="22.51" fill="#111">−400</text>
<line x1="378.0" y1="639.45" x2="378.0" y2="643.044" stroke="#4a4a4a" stroke-width="1.1627"/>
<text transform="translate(376.90,663.34) rotate(-30)" x="0" y="7.65" text-anchor="middle" font-family="'DejaVu Sans','Liberation Sans',sans-serif" font-size="22.51" fill="#111">0.0</text>
<line x1="422.73" y1="639.45" x2="422.73" y2="643.044" stroke="#4a4a4a" stroke-width="1.1627"/>
<text transform="translate(421.63,663.34) rotate(-30)" x="0" y="7.65" text-anchor="middle" font-family="'DejaVu Sans','Liberation Sans',sans-serif" font-size="22.51" fill="#111">0.5</text>
<line x1="467.46" y1="639.45" x2="467.46" y2="643.044" stroke="#4a4a4a" stroke-width="1.1627"/>
<text transform="translate(466.36,663.34) rotate(-30)" x="0" y="7.65" text-anchor="middle" font-family="'DejaVu Sans','Liberation Sans',sans-serif" font-size="22.51" fill="#111">1.0</text>
<line x1="512.19" y1="639.45" x2="512.19" y2="643.044" stroke="#4a4a4a" stroke-width="1.1627"/>
<text transform="translate(511.09,663.34) rotate(-30)" x="0" y="7.65" text-anchor="middle" font-family="'DejaVu Sans','Liberation Sans',sans-serif" font-size="22.51" fill="#111">1.5</text>
<line x1="556.92" y1="639.45" x2="556.92" y2="643.044" stroke="#4a4a4a" stroke-width="1.1627"/>
<text transform="translate(555.82,663.34) rotate(-30)" x="0" y="7.65" text-anchor="middle" font-family="'DejaVu Sans','Liberation Sans',sans-serif" font-size="22.51" fill="#111">2.0</text>
<line x1="601.65" y1="639.45" x2="601.65" y2="643.044" stroke="#4a4a4a" stroke-width="1.1627"/>
<text transform="translate(600.55,663.34) rotate(-30)" x="0" y="7.65" text-anchor="middle" font-family="'DejaVu Sans','Liberation Sans',sans-serif" font-size="22.51" fill="#111">2.5</text>
<line x1="646.38" y1="639.45" x2="646.38" y2="643.044" stroke="#4a4a4a" stroke-width="1.1627"/>
<text transform="translate(645.28,663.34) rotate(-30)" x="0" y="7.65" text-anchor="middle" font-family="'DejaVu Sans','Liberation Sans',sans-serif" font-size="22.51" fill="#111">3.0</text>
<line x1="691.1099999999999" y1="639.45" x2="691.1099999999999" y2="643.044" stroke="#4a4a4a" stroke-width="1.1627"/>
<text transform="translate(690.01,663.34) rotate(-30)" x="0" y="7.65" text-anchor="middle" font-family="'DejaVu Sans','Liberation Sans',sans-serif" font-size="22.51" fill="#111">3.5</text>
<text x="537.8" y="708.9" text-anchor="middle" font-family="'DejaVu Sans','Liberation Sans',sans-serif" font-size="28.64" fill="#111">Time (s)</text>
<text transform="translate(284.5,513.3) rotate(-90)" text-anchor="middle" font-family="'DejaVu Sans','Liberation Sans',sans-serif" font-size="28.64" fill="#111">Return</text>
<text x="712.5" y="702.2" text-anchor="end" font-family="'DejaVu Sans','Liberation Sans',sans-serif" font-size="20.51" fill="#111">1e6</text>
<text x="535.1" y="745.7" text-anchor="middle" font-family="'Liberation Sans',sans-serif" font-size="25.30" fill="#000" stroke="#000" stroke-width="0.3">Acrobat</text>
</svg>
</body>
</html>
